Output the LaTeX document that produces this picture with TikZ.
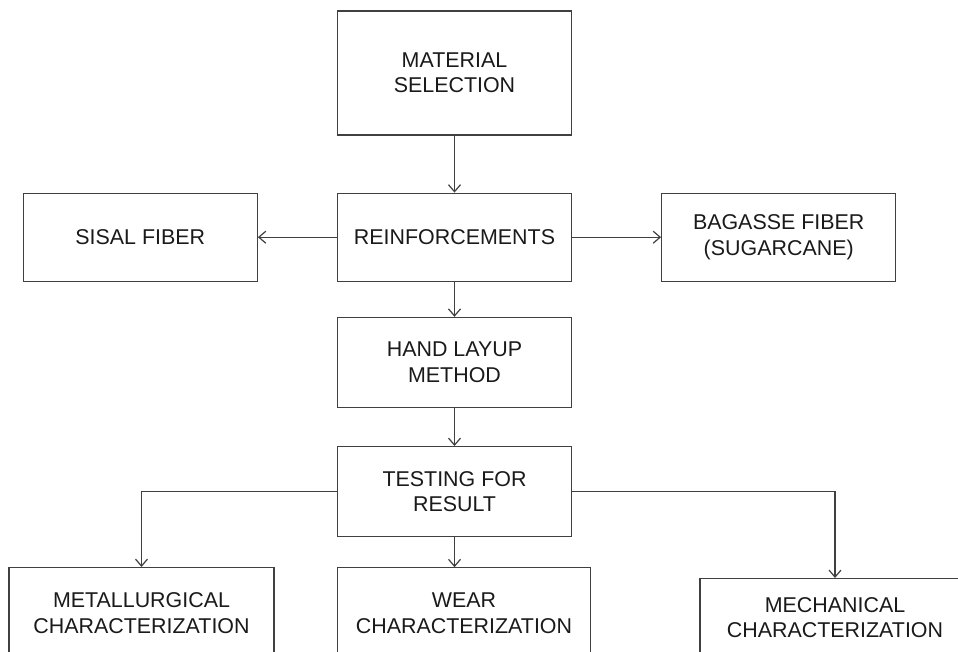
\documentclass[tikz,border=0pt]{standalone}
\usepackage{fontspec}
\setmainfont{Liberation Sans}
\usetikzlibrary{positioning, arrows.meta}
\definecolor{linegray}{HTML}{404040}
\definecolor{textgray}{HTML}{1A1A1A}

\begin{document}
\begin{tikzpicture}[>={Straight Barb[length=7bp,width=12bp]}, x=1bp, y=-1bp, every node/.style={align=center},
    box/.style={draw=linegray, line width=1.2bp, text=textgray, minimum width=234bp, minimum height=90bp, font=\fontsize{21.5}{25.5}\selectfont},
    link/.style={->, draw=linegray, line width=1.2bp}]
    \useasboundingbox (0,0) rectangle (958,652);
    \clip (0,0) rectangle (958,652);

    % top of the chain
    \node (mat) [box, minimum height=124bp] at (454.5,73) {MATERIAL\\SELECTION};
    \node (reinf) [box, minimum height=88bp, below=57bp of mat] {REINFORCEMENTS};

    % the two fibres
    \node (sisal) [box, minimum height=88bp, left=79bp of reinf] {SISAL FIBER};
    \node (bagasse) [box, minimum height=88bp, right=89bp of reinf] {BAGASSE FIBER\\(SUGARCANE)};

    % process and testing
    \node (hand) [box, below=35bp of reinf] {HAND LAYUP\\METHOD};
    \node (test) [box, below=38bp of hand] {TESTING FOR\\RESULT};

    % characterization boxes (run off the bottom edge)
    \node (metal) [box, minimum width=265bp, minimum height=91bp, anchor=north] at (141.5,567) {METALLURGICAL\\CHARACTERIZATION};
    \node (wear) [box, minimum width=253bp, minimum height=91bp, below=30bp of test, xshift=9.5bp] {WEAR\\CHARACTERIZATION};
    \node (mech) [box, minimum width=270bp, minimum height=78bp, anchor=north] at (835,578) {MECHANICAL\\CHARACTERIZATION};

    \draw[link] (mat) -- (reinf);
    \draw[link] (reinf) -- (sisal);
    \draw[link] (reinf) -- (bagasse);
    \draw[link] (reinf) -- (hand);
    \draw[link] (hand) -- (test);
    \draw[link] (test.south) -- (test.south |- wear.north);
    \draw[link] (test.west) -| (metal.north);
    \draw[link] (test.east) -| (mech.north);
\end{tikzpicture}
\end{document}
